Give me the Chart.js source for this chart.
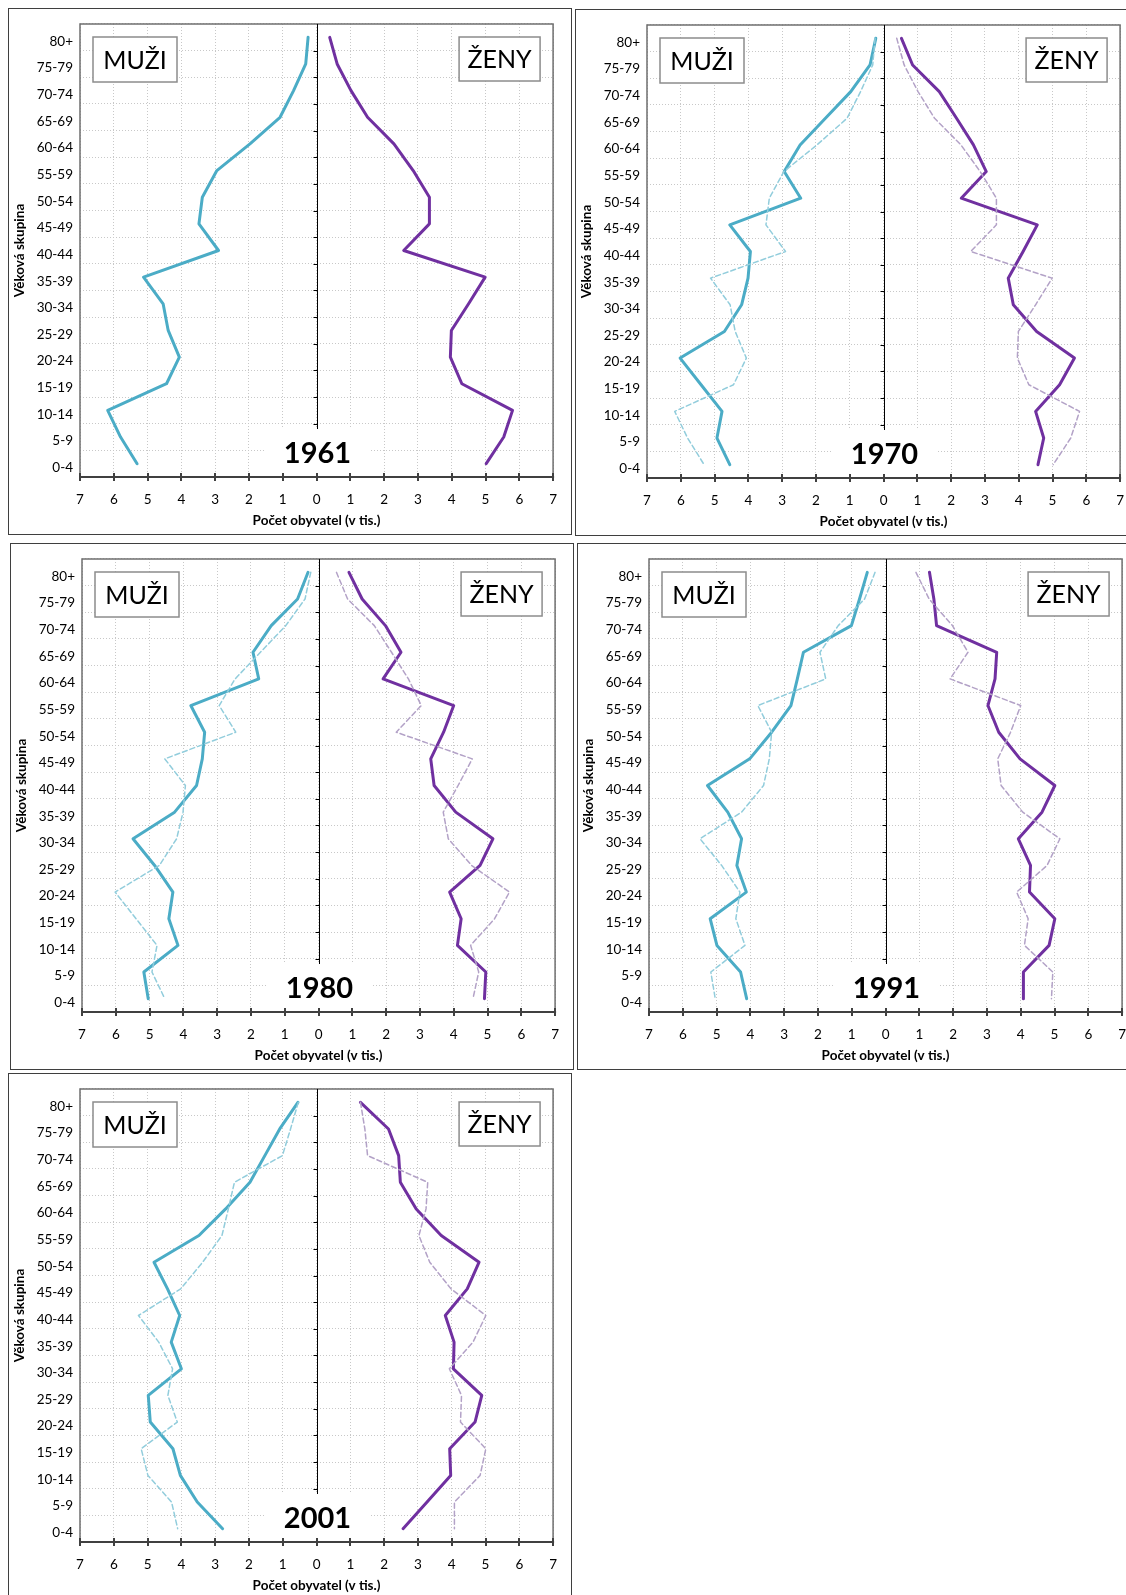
<!DOCTYPE html>
<html lang="cs">
<head>
<meta charset="utf-8">
<title>Věková struktura</title>
<script src="https://cdn.jsdelivr.net/npm/chart.js@4.4.1/dist/chart.umd.min.js"></script>
<style>
html, body { margin: 0; padding: 0; background: #fff; }
body { position: relative; width: 1126px; height: 1595px; overflow: hidden; }
.panel { position: absolute; width: 564px; height: 527px; box-sizing: border-box;
         border: 1px solid #3f3f3f; background: #fff; }
.panel canvas { position: absolute; left: -1px; top: -1px; }
#p1961 { left: 8px;   top: 8px; }
#p1970 { left: 575px; top: 9px; }
#p1980 { left: 10px;  top: 543px; }
#p1991 { left: 577px; top: 543px; }
#p2001 { left: 8px;   top: 1073px; }
</style>
</head>
<body>
<div class="panel" id="p1961"><canvas id="c1961" width="564" height="527"></canvas></div>
<div class="panel" id="p1970"><canvas id="c1970" width="564" height="527"></canvas></div>
<div class="panel" id="p1980"><canvas id="c1980" width="564" height="527"></canvas></div>
<div class="panel" id="p1991"><canvas id="c1991" width="564" height="527"></canvas></div>
<div class="panel" id="p2001"><canvas id="c2001" width="564" height="527"></canvas></div>

<script>
/* ================= DATA ================= */
const AGE_GROUPS = ["80+", "75-79", "70-74", "65-69", "60-64", "55-59", "50-54", "45-49",
                    "40-44", "35-39", "30-34", "25-29", "20-24", "15-19", "10-14", "5-9", "0-4"];

// počet obyvatel v tisících, od 80+ dolů k 0-4
const MUZI_1961 = [0.25, 0.32, 0.68, 1.08, 1.97, 2.95, 3.38, 3.48, 2.90, 5.12, 4.54, 4.39, 4.06, 4.44, 6.18, 5.80, 5.31];
const ZENY_1961 = [0.39, 0.61, 1.02, 1.51, 2.29, 2.86, 3.34, 3.34, 2.58, 4.99, 4.50, 3.99, 3.96, 4.30, 5.80, 5.54, 5.02];
const MUZI_1970 = [0.23, 0.40, 0.97, 1.72, 2.47, 2.94, 2.45, 4.55, 3.94, 4.01, 4.20, 4.71, 6.02, 5.40, 4.78, 4.93, 4.55];
const ZENY_1970 = [0.53, 0.86, 1.65, 2.16, 2.66, 3.04, 2.30, 4.55, 4.13, 3.69, 3.84, 4.53, 5.65, 5.21, 4.50, 4.74, 4.57];
const MUZI_1980 = [0.31, 0.62, 1.40, 1.94, 1.77, 3.78, 3.37, 3.44, 3.61, 4.26, 5.49, 4.85, 4.31, 4.43, 4.16, 5.17, 5.04];
const ZENY_1980 = [0.90, 1.29, 1.98, 2.44, 1.91, 4.00, 3.70, 3.32, 3.42, 4.06, 5.16, 4.78, 3.88, 4.22, 4.11, 4.95, 4.91];
const MUZI_1991 = [0.54, 0.77, 1.01, 2.43, 2.61, 2.80, 3.37, 4.02, 5.27, 4.67, 4.26, 4.40, 4.12, 5.19, 4.99, 4.29, 4.11];
const ZENY_1991 = [1.30, 1.43, 1.51, 3.29, 3.24, 3.03, 3.35, 3.98, 5.01, 4.63, 3.93, 4.29, 4.26, 5.01, 4.84, 4.08, 4.08];
const MUZI_2001 = [0.55, 1.09, 1.53, 1.97, 2.69, 3.48, 4.81, 4.41, 4.05, 4.30, 4.00, 4.98, 4.92, 4.25, 4.03, 3.53, 2.78];
const ZENY_2001 = [1.30, 2.13, 2.43, 2.48, 2.95, 3.69, 4.81, 4.46, 3.81, 4.07, 4.05, 4.89, 4.69, 3.94, 3.97, 3.27, 2.56];

const X_MIN = -7;
const X_MAX = 7;

// každý rok: aktuální sčítání (plná čára) + předchozí sčítání (čárkovaně)
const CENSUSES = [
    { year: "1961", muzi: MUZI_1961, zeny: ZENY_1961, prevMuzi: null,      prevZeny: null },
    { year: "1970", muzi: MUZI_1970, zeny: ZENY_1970, prevMuzi: MUZI_1961, prevZeny: ZENY_1961 },
    { year: "1980", muzi: MUZI_1980, zeny: ZENY_1980, prevMuzi: MUZI_1970, prevZeny: ZENY_1970 },
    { year: "1991", muzi: MUZI_1991, zeny: ZENY_1991, prevMuzi: MUZI_1980, prevZeny: ZENY_1980 },
    { year: "2001", muzi: MUZI_2001, zeny: ZENY_2001, prevMuzi: MUZI_1991, prevZeny: ZENY_1991 }
];

/* ================= STYLE ================= */
const FONT = 'Lato, "Open Sans", "DejaVu Sans", sans-serif';
const C_MUZI = "#4BACC6";
const C_ZENY = "#7030A0";
const C_MUZI_PREV = "#92CDDC";
const C_ZENY_PREV = "#B3A2C7";

Chart.defaults.font.family = FONT;
Chart.defaults.color = "#000";

/* ================= FRAME PLUGIN ================= */
// plot border, centre axis, tick marks, MUŽI / ŽENY labels and the year box
const pyramidFrame = {
    id: "pyramidFrame",
    afterDatasetsDraw(chart, args, opts) {
        const { ctx, chartArea: a, scales: { x, y } } = chart;
        const x0 = Math.round(x.getPixelForValue(0)) + 0.5;
        const boxTop = a.bottom - 48;

        ctx.save();

        /* ---------- year text box ---------- */
        ctx.fillStyle = "#fff";
        ctx.fillRect(x0 - 52, boxTop, 104, a.bottom - boxTop - 1);

        /* ---------- plot border ---------- */
        ctx.strokeStyle = "#6f6f6f";
        ctx.lineWidth = 1.5;
        ctx.beginPath();
        ctx.moveTo(a.left, a.bottom);
        ctx.lineTo(a.left, a.top);
        ctx.lineTo(a.right, a.top);
        ctx.lineTo(a.right, a.bottom);
        ctx.stroke();

        /* ---------- centre axis ---------- */
        ctx.strokeStyle = "#000";
        ctx.lineWidth = 1;
        ctx.beginPath();
        ctx.moveTo(x0, a.top);
        ctx.lineTo(x0, boxTop);
        for (let i = 0; i < AGE_GROUPS.length - 1; i++) {
            const yy = Math.round((y.getPixelForValue(i) + y.getPixelForValue(i + 1)) / 2) + 0.5;
            if (yy > boxTop) continue;
            ctx.moveTo(x0 - 4, yy);
            ctx.lineTo(x0, yy);
        }
        ctx.stroke();

        /* ---------- bottom axis ---------- */
        ctx.strokeStyle = "#404040";
        ctx.lineWidth = 2;
        ctx.beginPath();
        ctx.moveTo(a.left - 1, a.bottom);
        ctx.lineTo(a.right + 1, a.bottom);
        for (let v = X_MIN; v <= X_MAX; v++) {
            const px = Math.round(x.getPixelForValue(v));
            ctx.moveTo(px, a.bottom - 4);
            ctx.lineTo(px, a.bottom + 4);
        }
        ctx.stroke();

        /* ---------- year ---------- */
        ctx.fillStyle = "#000";
        ctx.font = "bold 29px " + FONT;
        ctx.textAlign = "center";
        ctx.textBaseline = "alphabetic";
        ctx.fillText(opts.year, x0, a.bottom - 14);

        /* ---------- MUŽI / ŽENY ---------- */
        const drawBox = (bx, by, bw, bh, text) => {
            ctx.fillStyle = "#fff";
            ctx.fillRect(bx, by, bw, bh);
            ctx.strokeStyle = "#8c8c8c";
            ctx.lineWidth = 1.5;
            ctx.strokeRect(bx, by, bw, bh);
            ctx.fillStyle = "#000";
            ctx.font = "25px " + FONT;
            ctx.textAlign = "center";
            ctx.fillText(text, bx + bw / 2, by + bh / 2 + 9);
        };
        drawBox(a.left + 13, a.top + 13, 84, 45, "MUŽI");
        drawBox(a.right - 13 - 81, a.top + 13, 81, 44, "ŽENY");

        ctx.restore();
    }
};

/* ================= CHARTS ================= */
function lineSet(values, sign, color, width, dash) {
    return {
        data: values.map(v => sign * v),
        borderColor: color,
        borderWidth: width,
        borderDash: dash,
        borderJoinStyle: "round",
        borderCapStyle: "round",
        pointRadius: 0,
        tension: 0,
        fill: false
    };
}

function buildChart(census) {
    const datasets = [];
    if (census.prevMuzi) {
        datasets.push(lineSet(census.prevMuzi, -1, C_MUZI_PREV, 1.5, [5, 3]));
        datasets.push(lineSet(census.prevZeny, 1, C_ZENY_PREV, 1.5, [5, 3]));
    }
    datasets.push(lineSet(census.muzi, -1, C_MUZI, 3, []));
    datasets.push(lineSet(census.zeny, 1, C_ZENY, 3, []));

    return new Chart(document.getElementById("c" + census.year), {
        type: "line",
        data: { labels: AGE_GROUPS, datasets },
        options: {
            indexAxis: "y",
            responsive: false,
            animation: false,
            events: [],
            layout: { padding: { left: 2, right: 17, top: 16, bottom: 6 } },
            plugins: {
                legend: { display: false },
                tooltip: { enabled: false },
                pyramidFrame: { year: census.year }
            },
            scales: {
                x: {
                    type: "linear",
                    min: X_MIN,
                    max: X_MAX,
                    afterFit: s => { s.height = 52; },
                    ticks: {
                        stepSize: 1,
                        padding: 15,
                        font: { size: 13.5 },
                        callback: v => Math.abs(v)
                    },
                    grid: { color: "#c8c8c8", drawTicks: false, lineWidth: 1 },
                    border: { display: false, dash: [1, 2] },
                    title: {
                        display: true,
                        text: "Počet obyvatel (v tis.)",
                        font: { size: 13.5, weight: "bold" },
                        padding: { top: 0, bottom: 0 }
                    }
                },
                y: {
                    type: "category",
                    offset: true,
                    afterFit: s => { s.width = 70; },
                    ticks: { padding: 7, labelOffset: 4, font: { size: 13.5 } },
                    grid: { offset: true, color: "#c8c8c8", drawTicks: false, lineWidth: 1 },
                    border: { display: false, dash: [1, 2] },
                    title: {
                        display: true,
                        text: "Věková skupina",
                        font: { size: 13.5, weight: "bold" },
                        padding: { top: 2, bottom: 0 }
                    }
                }
            }
        },
        plugins: [pyramidFrame]
    });
}

/* ================= INIT ================= */
CENSUSES.forEach(buildChart);
</script>
</body>
</html>
